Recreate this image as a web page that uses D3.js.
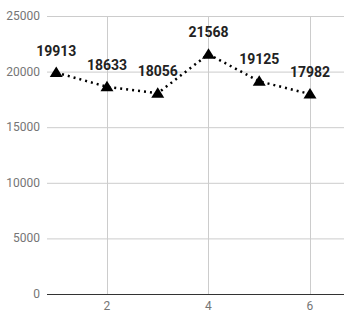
<!DOCTYPE html>
<html>
<head>
<meta charset="utf-8">
<script src="https://cdn.jsdelivr.net/npm/d3@7"></script>
<style>
  body { margin: 0; background: #fff; }
  text { font-family: Roboto, Arial, sans-serif; }
</style>
</head>
<body>
<div id="chart"></div>
<script>
var xValues = [1, 2, 3, 4, 5, 6];
var yValues = [19913, 18633, 18056, 21568, 19125, 17982];
var xTicks = [2, 4, 6];
var xGrid = [2, 4, 6];
var yTicks = [0, 5000, 10000, 15000, 20000, 25000];

var width = 344, height = 326;
var margin = {top: 16, right: 0, bottom: 32, left: 47};

var svg = d3.select("#chart").append("svg")
    .attr("width", width)
    .attr("height", height);

var x = d3.scaleLinear()
    .domain([0.818, 6.67])
    .range([margin.left, width - margin.right]);

var y = d3.scaleLinear()
    .domain([0, 25000])
    .range([height - margin.bottom, margin.top]);

// horizontal gridlines
svg.append("g").selectAll("line")
    .data(yTicks.slice(1))
    .enter().append("line")
    .attr("x1", margin.left).attr("x2", width - margin.right)
    .attr("y1", function(d) { return y(d) + 0.5; })
    .attr("y2", function(d) { return y(d) + 0.5; })
    .attr("stroke", "#cccccc");

// vertical gridlines
svg.append("g").selectAll("line")
    .data(xGrid)
    .enter().append("line")
    .attr("x1", function(d) { return Math.round(x(d)) + 0.5; })
    .attr("x2", function(d) { return Math.round(x(d)) + 0.5; })
    .attr("y1", margin.top).attr("y2", y(0))
    .attr("stroke", "#cccccc");

// y tick labels
svg.append("g").selectAll("text")
    .data(yTicks)
    .enter().append("text")
    .attr("x", margin.left - 7)
    .attr("y", function(d) { return y(d) + 4; })
    .attr("text-anchor", "end")
    .attr("font-size", 12)
    .attr("fill", "#757575")
    .text(function(d) { return d; });

// x tick labels
svg.append("g").selectAll("text")
    .data(xTicks)
    .enter().append("text")
    .attr("x", function(d) { return x(d); })
    .attr("y", y(0) + 16)
    .attr("text-anchor", "middle")
    .attr("font-size", 12)
    .attr("fill", "#757575")
    .text(function(d) { return d; });

// baseline
svg.append("line")
    .attr("x1", margin.left).attr("x2", width - margin.right)
    .attr("y1", y(0) + 0.5).attr("y2", y(0) + 0.5)
    .attr("stroke", "#333333");

var data = xValues.map(function(d, i) { return {x: d, y: yValues[i]}; });

// dotted line
svg.append("path")
    .datum(data)
    .attr("fill", "none")
    .attr("stroke", "#000")
    .attr("stroke-width", 2.5)
    .attr("stroke-dasharray", "2,4")
    .attr("d", d3.line()
        .x(function(d) { return x(d.x); })
        .y(function(d) { return y(d.y); }));

// triangle markers
svg.append("g").selectAll("path")
    .data(data)
    .enter().append("path")
    .attr("transform", function(d) { return "translate(" + x(d.x) + "," + y(d.y) + ")"; })
    .attr("d", "M0,-6L6.5,4.5L-6.5,4.5Z")
    .attr("fill", "#000");

// value labels
svg.append("g").selectAll("text")
    .data(data)
    .enter().append("text")
    .attr("x", function(d) { return x(d.x); })
    .attr("y", function(d) { return y(d.y) - 17; })
    .attr("text-anchor", "middle")
    .attr("font-size", 14)
    .attr("font-weight", "bold")
    .attr("fill", "#222")
    .text(function(d) { return d.y; });
</script>
</body>
</html>
